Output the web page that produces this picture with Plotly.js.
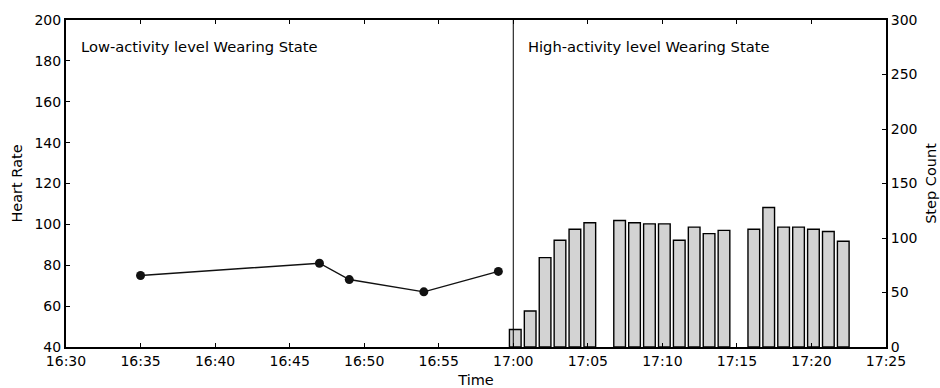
<!DOCTYPE html>
<html>
<head>
<meta charset="utf-8">
<script src="https://cdn.plot.ly/plotly-3.0.1.min.js"></script>
<style>html,body{margin:0;padding:0;background:#fff;}#chart{width:940px;height:388px;}</style>
</head>
<body>
<div id="chart"></div>
<script>
var day = "2020-01-01 ";
var hrTimes = ["16:35", "16:47", "16:49", "16:54", "16:59"];
var hrValues = [75, 81, 73, 67, 77];
var stepTimes = ["17:00:08", "17:01:08", "17:02:08", "17:03:08", "17:04:08", "17:05:08",
                 "17:07:08", "17:08:08", "17:09:08", "17:10:08", "17:11:08", "17:12:08", "17:13:08", "17:14:08",
                 "17:16:08", "17:17:08", "17:18:08", "17:19:08", "17:20:08", "17:21:08", "17:22:08"];
var stepValues = [16, 33, 82, 98, 108, 114,
                  116, 114, 113, 113, 98, 110, 104, 107,
                  108, 128, 110, 110, 108, 106, 97];
var xTickLabels = ["16:30","16:35","16:40","16:45","16:50","16:55","17:00","17:05","17:10","17:15","17:20","17:25"];
var leftLabel = "Low-activity level Wearing State";
var rightLabel = "High-activity level Wearing State";
var boundaryTime = "17:00";

var tickFont = {family: "DejaVu Sans, sans-serif", size: 14, color: "#000"};
var titleFont = {family: "DejaVu Sans, sans-serif", size: 14.5, color: "#000"};
var noteFont = {family: "DejaVu Sans, sans-serif", size: 14.7, color: "#000"};

var traces = [
  {
    type: "bar",
    x: stepTimes.map(function(t){return day + t;}),
    y: stepValues,
    yaxis: "y2",
    width: 47000,
    marker: {color: "#d3d3d3", line: {color: "#000", width: 1.4}},
    hoverinfo: "skip"
  },
  {
    type: "scatter",
    mode: "lines+markers",
    x: hrTimes.map(function(t){return day + t;}),
    y: hrValues,
    line: {color: "#111", width: 1.4},
    marker: {color: "#111", size: 9},
    hoverinfo: "skip"
  }
];

var layout = {
  width: 940, height: 388,
  margin: {l: 66, r: 54, t: 20, b: 41},
  paper_bgcolor: "#fff", plot_bgcolor: "#fff",
  showlegend: false,
  font: tickFont,
  xaxis: {
    type: "date",
    range: [day + "16:30", day + "17:25"],
    tickvals: xTickLabels.map(function(t){return day + t;}),
    ticktext: xTickLabels,
    ticks: "inside", ticklen: 4, tickwidth: 1, tickcolor: "#000",
    showline: true, linecolor: "#000", linewidth: 2, mirror: "ticks",
    showgrid: false, zeroline: false,
    tickfont: tickFont,
    title: {text: "Time", font: titleFont, standoff: 8}
  },
  yaxis: {
    range: [40, 200], dtick: 20, tick0: 40,
    ticks: "inside", ticklen: 4, tickwidth: 1, tickcolor: "#000",
    showline: true, linecolor: "#000", linewidth: 2,
    showgrid: false, zeroline: false,
    tickfont: tickFont,
    title: {text: "Heart Rate", font: titleFont, standoff: 8}
  },
  yaxis2: {
    overlaying: "y", side: "right",
    range: [0, 300], dtick: 50, tick0: 0,
    ticks: "inside", ticklen: 4, tickwidth: 1, tickcolor: "#000",
    showline: true, linecolor: "#000", linewidth: 2,
    showgrid: false, zeroline: false,
    tickfont: tickFont,
    title: {text: "Step Count", font: titleFont, standoff: 9}
  },
  shapes: [
    {type: "line", xref: "x", yref: "paper", x0: day + boundaryTime, x1: day + boundaryTime, y0: 0, y1: 1,
     line: {color: "#000", width: 1}}
  ],
  annotations: [
    {text: leftLabel, xref: "paper", yref: "paper", x: 0.016, y: 0.918, xanchor: "left", yanchor: "middle", showarrow: false, font: noteFont},
    {text: rightLabel, xref: "paper", yref: "paper", x: 0.561, y: 0.918, xanchor: "left", yanchor: "middle", showarrow: false, font: noteFont}
  ]
};

Plotly.newPlot("chart", traces, layout, {displayModeBar: false, staticPlot: true});
</script>
</body>
</html>
